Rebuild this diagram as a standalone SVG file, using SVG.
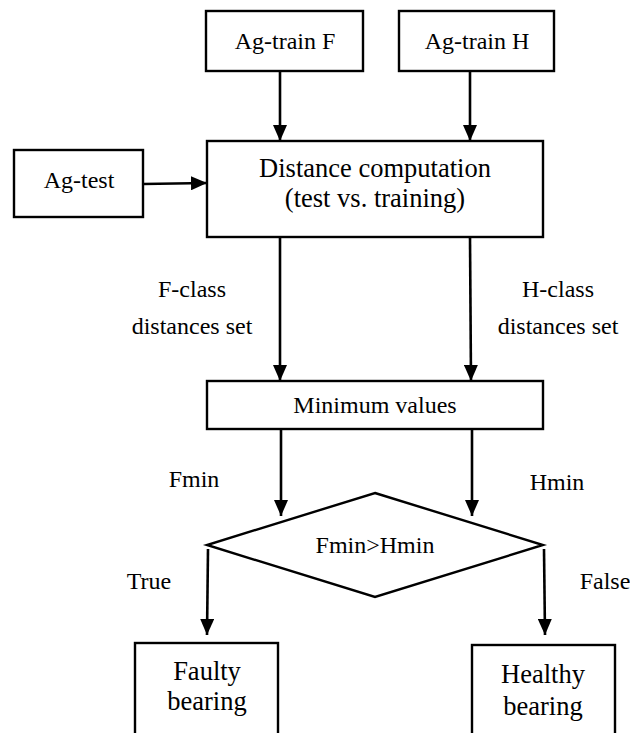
<svg xmlns="http://www.w3.org/2000/svg" width="630" height="733" viewBox="0 0 630 733">
<style>
  .box{fill:#fff;stroke:#000;stroke-width:2.4}
  .t{font-family:"Liberation Serif","Times New Roman",serif;font-size:24px;fill:#000;text-anchor:middle}
  .tb{font-size:26.5px}
  .c{stroke:#000;stroke-width:2.6;fill:none;marker-end:url(#ah)}
</style>
<defs>
  <marker id="ah" markerUnits="userSpaceOnUse" markerWidth="16" markerHeight="14" refX="16" refY="7" orient="auto">
    <path d="M0,0 L16,7 L0,14 Z" fill="#000"/>
  </marker>
</defs>
<g id="agtrainF"><rect class="box" x="206" y="11" width="157" height="60"/><text class="t" x="285" y="49">Ag-train F</text></g>
<g id="agtrainH"><rect class="box" x="399" y="11" width="155" height="60"/><text class="t" x="477" y="49">Ag-train H</text></g>
<g id="agtest"><rect class="box" x="14" y="150" width="129" height="67"/><text class="t" x="79" y="188">Ag-test</text></g>
<g id="distance"><rect class="box" x="207" y="141" width="336" height="96"/><text class="t tb" x="375" y="177">Distance computation</text><text class="t tb" x="375" y="207">(test vs. training)</text></g>
<g id="minimum"><rect class="box" x="207" y="381" width="336" height="48"/><text class="t" x="375" y="413">Minimum values</text></g>
<g id="decision"><polygon class="box" points="375,493 543,545 375,597 207,545"/><text class="t" x="375" y="553">Fmin&gt;Hmin</text></g>
<g id="faulty"><rect class="box" x="135" y="643" width="143" height="92"/><text class="t tb" x="207" y="680">Faulty</text><text class="t tb" x="207" y="710">bearing</text></g>
<g id="healthy"><rect class="box" x="472" y="645" width="143" height="92"/><text class="t tb" x="543" y="683">Healthy</text><text class="t tb" x="543" y="715">bearing</text></g>
<g id="connectors">
  <line class="c" x1="280" y1="71" x2="280" y2="141"/>
  <line class="c" x1="470" y1="71" x2="470" y2="141"/>
  <line class="c" x1="143" y1="184" x2="207" y2="183"/>
  <line class="c" x1="280" y1="237" x2="280" y2="381"/>
  <line class="c" x1="470" y1="237" x2="471" y2="381"/>
  <line class="c" x1="281" y1="429" x2="281" y2="516"/>
  <line class="c" x1="472" y1="429" x2="472" y2="516"/>
  <line class="c" x1="208" y1="549" x2="207" y2="635"/>
  <line class="c" x1="544" y1="549" x2="545" y2="635"/>
</g>
<g id="labels">
  <text class="t" x="192" y="297">F-class</text>
  <text class="t" x="192" y="334">distances set</text>
  <text class="t" x="558" y="297">H-class</text>
  <text class="t" x="558" y="334">distances set</text>
  <text class="t" x="194" y="487">Fmin</text>
  <text class="t" x="557" y="490">Hmin</text>
  <text class="t" x="149" y="589">True</text>
  <text class="t" x="605" y="589">False</text>
</g>
</svg>
